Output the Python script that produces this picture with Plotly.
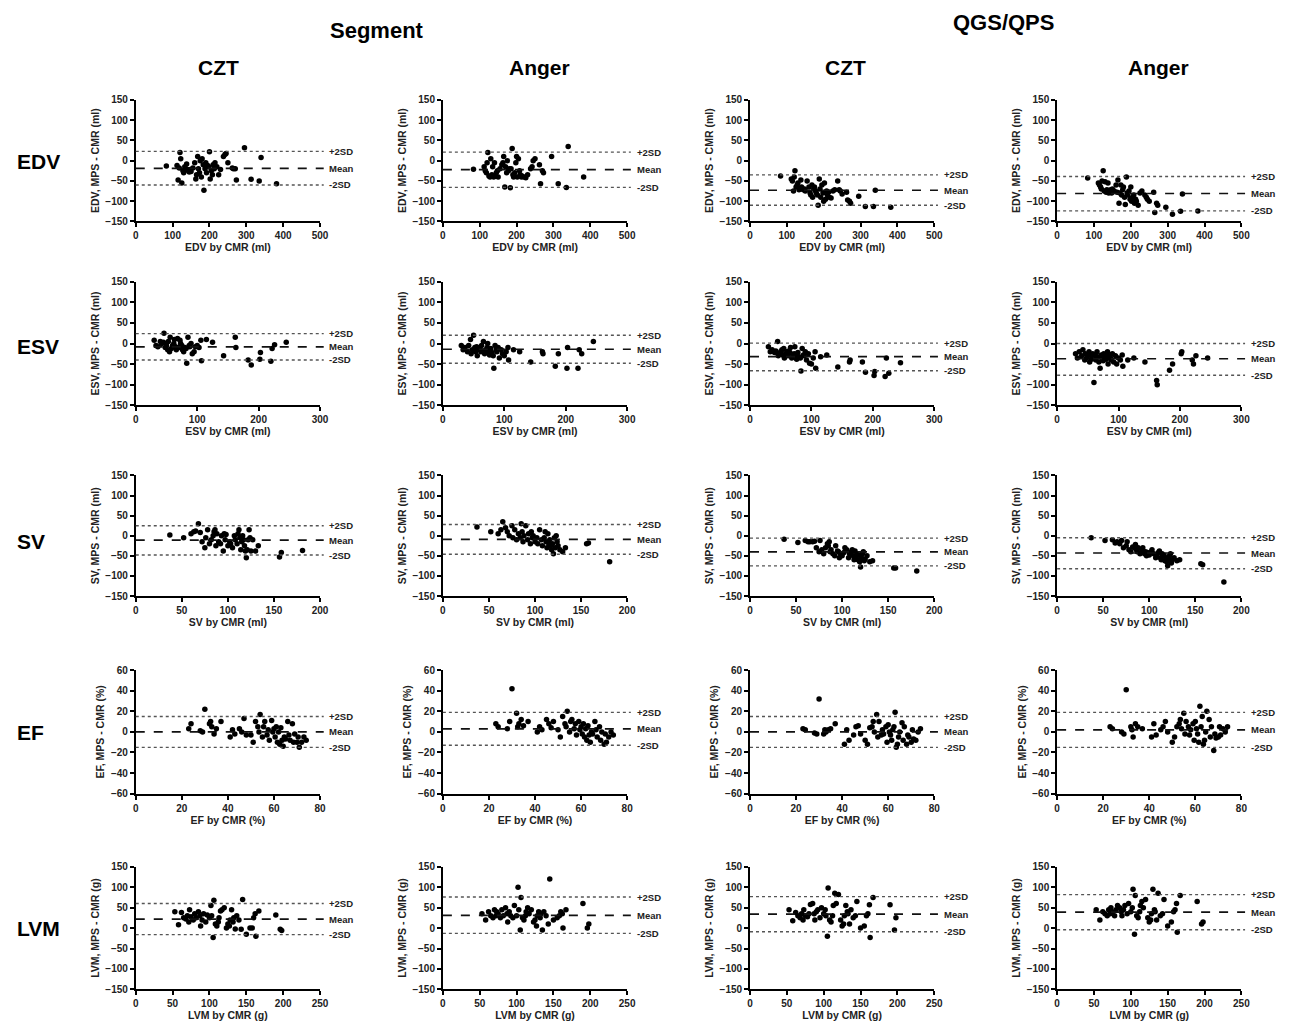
import plotly.graph_objects as go

# ---------------- data ----------------
COLS = ["CZT", "Anger", "CZT", "Anger"]
ROWS = ["EDV", "ESV", "SV", "EF", "LVM"]

EDV_CMR = [83, 112, 115, 118, 120, 122, 125, 128, 130, 133,
           135, 138, 140, 143, 145, 148, 150, 155, 160, 163,
           165, 168, 170, 173, 175, 178, 180, 183, 185, 188,
           190, 192, 195, 198, 200, 202, 205, 208, 210, 213,
           215, 220, 225, 230, 238, 242, 245, 250, 262, 265,
           270, 273, 295, 313, 335, 340, 382]
EDV_SEG_CZT = [-13, -12, -48, -18, 20, 5, -55, -25, -30, -15,
               -20, -8, -22, -25, -28, -22, -27, -18, -5, -45,
               -35, 10, -20, -30, 0, -40, 5, -10, -73, -20,
               -5, -30, -12, -15, 22, -45, -25, -35, -10, -20,
               -5, -15, -35, -22, 10, 15, 18, -5, -18, -20,
               -20, -48, 32, -46, -50, 8, -57]
EDV_SEG_ANGER = [-21, -15, -25, -30, -5, 20, -38, -40, 5, -35,
                 -15, -40, -5, -38, -30, -25, -40, -20, -10, -5,
                 10, -65, -15, -30, 0, -25, -20, -67, -20, 30,
                 -35, -40, -30, -5, 10, -40, 5, -25, -35, -40,
                 -38, -40, -42, -35, -20, -15, 0, 5, -10, -57,
                 -25, -30, 10, -57, -66, 35, -40]
EDV_QGS_CZT = [-38, -45, -50, -75, -40, -25, -65, -60, -55, -72,
               -70, -48, -65, -70, -72, -70, -75, -50, -65, -80,
               -85, -60, -90, -70, -65, -75, -80, -85, -110, -45,
               -70, -90, -60, -80, -100, -55, -95, -75, -85, -78,
               -90, -92, -75, -72, -50, -72, -75, -82, -78, -97,
               -100, -105, -88, -113, -113, -73, -115]
EDV_QGS_ANGER = [-43, -55, -60, -65, -70, -50, -25, -75, -52, -78,
                 -72, -55, -80, -75, -72, -80, -70, -75, -60, -78,
                 -48, -105, -80, -60, -85, -72, -65, -90, -108, -40,
                 -80, -85, -75, -95, -65, -100, -90, -85, -105, -95,
                 -100, -110, -80, -75, -85, -90, -95, -100, -78, -128,
                 -105, -110, -115, -132, -125, -82, -124]

ESV_CMR = [30, 33, 36, 40, 42, 45, 46, 48, 50, 52,
           53, 55, 56, 58, 60, 62, 63, 65, 66, 68,
           70, 72, 73, 75, 76, 78, 80, 82, 83, 85,
           87, 88, 90, 92, 95, 97, 100, 103, 106, 107,
           115, 125, 143, 162, 163, 183, 188, 202, 203, 220,
           222, 226, 245]
ESV_SEG_CZT = [8, -5, -8, 5, 0, 3, 25, -10, -5, -15,
               5, -20, 15, -12, -5, 0, 10, -8, -15, 12,
               -10, 8, 0, -5, -15, -20, -10, -12, -48, 15,
               -5, -8, 0, -25, -20, -8, -5, -10, 8, -42,
               10, 3, -30, 15, -10, -40, -52, -38, -22, -43,
               -12, -3, 3]
ESV_SEG_ANGER = [-5, -15, -10, -20, -5, 10, -25, -15, 20, -10,
                 -20, -8, -30, -15, -12, -20, -5, -18, 5, -25,
                 -15, -10, 0, -20, -28, -12, -22, -30, -60, -5,
                 -15, -20, -10, -35, -15, -25, -30, -20, -10, -40,
                 -15, -20, -45, -20, -25, -55, -25, -60, -10, -60,
                 -15, -25, 5]
ESV_QGS_CZT = [-8, -20, -15, -22, -18, 5, -30, -25, -20, -15,
               -28, -12, -35, -25, -20, -30, -18, -22, -10, -35,
               -28, -25, -8, -30, -38, -22, -32, -35, -67, -12,
               -28, -30, -20, -40, -25, -48, -50, -35, -20, -60,
               -32, -28, -57, -45, -40, -45, -70, -78, -68, -80,
               -35, -72, -47]
ESV_QGS_ANGER = [-25, -35, -20, -30, -15, -40, -25, -35, -30, -20,
                 -45, -28, -38, -25, -95, -30, -40, -20, -32, -45,
                 -60, -28, -35, -42, -25, -30, -38, -20, -50, -30,
                 -35, -40, -25, -45, -30, -50, -35, -40, -28, -55,
                 -40, -35, -45, -90, -100, -65, -50, -25, -20, -40,
                 -50, -30, -35]

SV_CMR = [37, 52, 60, 63, 65, 68, 70, 72, 75, 76,
          78, 80, 82, 84, 85, 86, 87, 88, 90, 92,
          93, 95, 96, 97, 98, 100, 102, 103, 105, 107,
          108, 110, 111, 112, 113, 114, 115, 116, 117, 118,
          119, 120, 121, 122, 123, 124, 125, 127, 130, 133,
          156, 158, 181]
SV_SEG_CZT = [2, -5, 5, 10, 12, 30, 8, -15, -30, -5,
              15, -20, -10, 0, 10, 15, -25, 5, -15, -20,
              0, -38, 5, -10, 3, -25, -15, -20, -30, 0,
              -10, -20, 5, 15, -5, -35, -15, 0, -10, -25,
              -38, -55, -35, -10, 15, -5, -38, -10, -38, -25,
              -53, -42, -37]
SV_SEG_ANGER = [22, 10, 5, 15, 35, 20, 10, 0, 25, -5,
                15, -10, 5, -5, 30, 10, -15, 0, 25, -10,
                5, -20, 10, -5, 0, -15, -5, -20, 15, -10,
                -25, -5, 10, -15, -30, 5, -20, -10, -25, -35,
                -20, -45, -5, -30, 0, -15, -25, -35, -40, -30,
                -20, -18, -65]
SV_QGS_CZT = [-9, -17, -12, -15, -15, -15, -14, -30, -40, -12,
              -35, -45, -30, -20, -25, -15, -40, -35, -45, -50,
              -25, -38, -40, -55, -45, -50, -42, -30, -35, -55,
              -45, -40, -35, -50, -60, -38, -55, -45, -60, -48,
              -65, -78, -55, -45, -40, -62, -58, -50, -65, -62,
              -80, -80, -88]
SV_QGS_ANGER = [-5, -12, -10, -18, -15, -20, -12, -30, -25, -15,
                -35, -40, -28, -30, -22, -35, -40, -30, -45, -38,
                -30, -45, -40, -50, -42, -48, -40, -35, -45, -55,
                -50, -42, -38, -55, -60, -45, -50, -48, -62, -55,
                -65, -75, -58, -50, -45, -68, -60, -55, -62, -60,
                -70, -72, -115]

EF_CMR = [23, 24, 28, 29, 30, 32, 32.5, 33, 34, 35,
          37, 41, 42, 43, 45, 46, 47, 48, 50, 51,
          52, 53, 53.5, 54, 55, 55.5, 56, 57, 57.5, 58,
          59, 59.5, 60, 60.5, 61, 61.5, 62, 62.5, 63, 63.5,
          64, 64.5, 65, 66, 66.5, 67, 68, 68.5, 69, 70,
          70.5, 71, 72, 73, 74]
EF_SEG_CZT = [3, 8, 1, 0, 22, 8, 10, 5, -2, 3,
              10, -5, 2, -2, 3, 0, 13, -3, -3, -10,
              10, 5, 0, 17, -5, 5, 10, -3, 2, -8,
              11, 0, 3, -5, 5, -10, 0, -12, 4, -8,
              -14, -5, -7, 10, -3, -8, 8, -10, -2, -10,
              -5, -15, -10, -5, -8]
EF_SEG_ANGER = [8, 5, 3, 10, 42, 18, 5, 8, 12, 6,
                10, 0, 5, 2, 12, 8, 4, 10, 2, -5,
                15, 8, 5, 20, 0, 10, 12, 3, 8, -3,
                10, 2, 5, -2, 8, -5, 3, -8, 6, -3,
                -10, 0, -2, 10, 2, -5, 5, -8, 0, -12,
                -2, -10, -5, 0, -3]
EF_QGS_CZT = [3, 2, -1, -2, 32, -2, 2, 0, 2, 3,
              8, -12, 2, -8, -3, 5, 6, -2, -8, -12,
              4, 5, 10, 0, 17, -5, 10, -3, 2, -2,
              5, -10, 7, 0, -3, -8, 2, 5, 19, -15,
              -12, -5, 0, 9, -8, 5, -12, -3, -5, -10,
              2, -7, -8, 0, 3]
EF_QGS_ANGER = [5, 3, 0, -2, 41, 5, 2, -5, 8, 5,
                3, -5, 8, -3, 2, 5, 10, 0, -10, -5,
                5, 8, 12, 3, 18, -2, 10, 5, -3, 2,
                8, -8, 10, 3, -2, -10, 25, 5, 15, -12,
                -8, 0, 20, 12, -5, 5, -18, -2, -6, -5,
                5, -3, 3, 0, 5]

LVM_CMR = [53, 58, 62, 65, 68, 70, 72, 73, 75, 78,
           80, 82, 85, 87, 88, 90, 92, 95, 97, 100,
           102, 103, 105, 106, 108, 110, 112, 113, 115, 117,
           120, 123, 125, 127, 128, 130, 132, 133, 135, 137,
           140, 143, 145, 150, 155, 158, 160, 162, 163, 167,
           190, 196, 198]
LVM_SEG_CZT = [40, 8, 38, 25, 22, 30, 15, 45, 28, 20,
               35, 25, 40, 30, 5, 20, 35, 15, 32, 25,
               55, 30, -23, 68, 10, 5, 15, 25, 42, 45,
               50, 0, 10, 5, 20, 45, 15, 25, -2, 30,
               20, -3, 70, -15, 0, 0, 25, 35, -20, 42,
               32, -3, -6]
LVM_SEG_ANGER = [35, 20, 40, 30, 25, 45, 30, 40, 35, 25,
                 45, 30, 50, 35, 15, 40, 30, 25, 55, 30,
                 100, 45, -5, 75, 25, 20, 30, 40, 50, 35,
                 45, 15, 20, 5, 30, 40, 25, 35, -5, 40,
                 30, 10, 120, 20, 25, 30, 40, 35, 0, 45,
                 60, 0, 10]
LVM_QGS_CZT = [45, 18, 38, 30, 25, 35, 20, 45, 30, 28,
               35, 58, 60, 35, 20, 40, 45, 25, 50, 35,
               45, 30, -20, 98, 20, 15, 30, 55, 85, 60,
               82, 20, 5, 10, 30, 55, 40, 35, 10, 45,
               25, 30, 65, 0, 5, 30, 35, 57, -23, 75,
               57, -5, 25]
LVM_QGS_ANGER = [45, 20, 40, 35, 30, 45, 35, 50, 40, 30,
                 45, 55, 50, 40, 30, 45, 55, 35, 60, 40,
                 50, 95, -15, 80, 30, 25, 40, 55, 65, 50,
                 70, 25, 15, 20, 35, 95, 45, 40, 20, 85,
                 30, 35, 70, 5, 15, 40, 45, 60, -10, 80,
                 65, 10, 15]

# Bland-Altman limits per column (Seg CZT, Seg Anger, QGS CZT, QGS Anger)
EDV_MEAN = [-19, -22, -73, -81]; EDV_UP = [23, 21, -35, -39]; EDV_LO = [-60, -66, -110, -124]
ESV_MEAN = [-8, -14, -32, -37];  ESV_UP = [24, 20, 1, 0];     ESV_LO = [-40, -48, -66, -77]
SV_MEAN = [-11, -9, -40, -43];   SV_UP = [25, 28, -6, -5];    SV_LO = [-48, -46, -75, -82]
EF_MEAN = [0, 3, 0, 2];          EF_UP = [15, 19, 15, 19];    EF_LO = [-15, -13, -15, -15]
LVM_MEAN = [22, 31, 34, 39];     LVM_UP = [60, 76, 77, 82];   LVM_LO = [-16, -13, -9, -4]

X_TITLES = ["EDV by CMR (ml)", "ESV by CMR (ml)", "SV by CMR (ml)", "EF by CMR (%)", "LVM by CMR (g)"]
Y_TITLES = ["EDV, MPS - CMR (ml)", "ESV, MPS - CMR (ml)", "SV, MPS - CMR (ml)",
            "EF, MPS - CMR (%)", "LVM, MPS - CMR (g)"]
X_MAX = [500, 300, 200, 80, 250]
X_DTICK = [100, 100, 50, 20, 50]
Y_LIM = [150, 150, 150, 60, 150]
Y_DTICK = [50, 50, 50, 20, 50]

row_data = [
    (EDV_CMR, [EDV_SEG_CZT, EDV_SEG_ANGER, EDV_QGS_CZT, EDV_QGS_ANGER], EDV_MEAN, EDV_UP, EDV_LO),
    (ESV_CMR, [ESV_SEG_CZT, ESV_SEG_ANGER, ESV_QGS_CZT, ESV_QGS_ANGER], ESV_MEAN, ESV_UP, ESV_LO),
    (SV_CMR, [SV_SEG_CZT, SV_SEG_ANGER, SV_QGS_CZT, SV_QGS_ANGER], SV_MEAN, SV_UP, SV_LO),
    (EF_CMR, [EF_SEG_CZT, EF_SEG_ANGER, EF_QGS_CZT, EF_QGS_ANGER], EF_MEAN, EF_UP, EF_LO),
    (LVM_CMR, [LVM_SEG_CZT, LVM_SEG_ANGER, LVM_QGS_CZT, LVM_QGS_ANGER], LVM_MEAN, LVM_UP, LVM_LO),
]

# ---------------- layout geometry (pixels) ----------------
W, H = 1291, 1025
COL_LEFT = [134, 444, 754, 1064]
COL_W = 186
ROW_TB = [(95, 218), (279, 404), (475, 597), (672, 797), (871, 995)]

FONT = "Liberation Sans, Arial, Helvetica, sans-serif"

fig = go.Figure()
layout = dict(
    width=W, height=H, margin=dict(l=0, r=0, t=0, b=0),
    paper_bgcolor="white", plot_bgcolor="white", showlegend=False,
    font=dict(family=FONT, color="black"),
)
shapes = []
annotations = []

for r in range(5):
    xs, ys_list, means, ups, los = row_data[r]
    top, bot = ROW_TB[r]
    for c in range(4):
        k = r * 4 + c + 1
        xa = "x" if k == 1 else f"x{k}"
        ya = "y" if k == 1 else f"y{k}"
        xname = "xaxis" if k == 1 else f"xaxis{k}"
        yname = "yaxis" if k == 1 else f"yaxis{k}"
        left = COL_LEFT[c]
        layout[xname] = dict(
            domain=[left / W, (left + COL_W) / W], anchor=ya,
            range=[0, X_MAX[r]], dtick=X_DTICK[r], tick0=0,
            showline=True, linecolor="black", linewidth=1.8,
            ticks="outside", ticklen=4, tickwidth=1.5, tickcolor="black",
            showgrid=False, zeroline=False,
            tickfont=dict(size=10, family=FONT, weight="bold", color="#222"),
            title=dict(text=X_TITLES[r], font=dict(size=10.5, family=FONT, weight="bold", color="#222"),
                       standoff=2),
        )
        layout[yname] = dict(
            domain=[1 - bot / H, 1 - top / H], anchor=xa,
            range=[-Y_LIM[r], Y_LIM[r]], dtick=Y_DTICK[r], tick0=0,
            showline=True, linecolor="black", linewidth=1.8,
            ticks="outside", ticklen=4, tickwidth=1.5, tickcolor="black",
            showgrid=False, zeroline=False,
            tickfont=dict(size=10, family=FONT, weight="bold", color="#222"),
            title=dict(text=Y_TITLES[r], font=dict(size=10.5, family=FONT, weight="bold", color="#222"),
                       standoff=4),
        )
        fig.add_trace(go.Scatter(
            x=xs, y=ys_list[c], mode="markers", xaxis=xa, yaxis=ya,
            marker=dict(size=5.5, color="black"), cliponaxis=False, hoverinfo="x+y",
        ))
        for val, dash, col, wdt, lab in [(ups[c], "dot", "#555555", 1.4, "+2SD"),
                                         (means[c], "dash", "#111111", 1.7, "Mean"),
                                         (los[c], "dot", "#555555", 1.4, "-2SD")]:
            shapes.append(dict(type="line", xref=f"{xa} domain", yref=ya,
                               x0=0, x1=1.02, y0=val, y1=val,
                               line=dict(color=col, width=wdt, dash=dash)))
            annotations.append(dict(xref=f"{xa} domain", yref=ya, x=1.04, y=val,
                                    text=lab, showarrow=False, xanchor="left", yanchor="middle",
                                    font=dict(size=9.5, family=FONT, weight="bold", color="#222")))

# column group headers and column titles
for txt, xc, yc, sz in [("Segment", 378, 25, 22), ("QGS/QPS", 1010, 17, 22)]:
    annotations.append(dict(xref="paper", yref="paper", x=xc / W, y=1 - yc / H, text=txt,
                            showarrow=False, xanchor="center", yanchor="middle",
                            font=dict(size=sz, family=FONT, weight="bold")))
for txt, xc in zip(COLS, [218, 542, 850, 1166]):
    annotations.append(dict(xref="paper", yref="paper", x=xc / W, y=1 - 62 / H, text=txt,
                            showarrow=False, xanchor="center", yanchor="middle",
                            font=dict(size=21, family=FONT, weight="bold")))
for txt, yc in zip(ROWS, [157, 345, 542, 735, 933]):
    annotations.append(dict(xref="paper", yref="paper", x=12 / W, y=1 - yc / H, text=txt,
                            showarrow=False, xanchor="left", yanchor="middle",
                            font=dict(size=21, family=FONT, weight="bold")))

layout["shapes"] = shapes
layout["annotations"] = annotations
fig.update_layout(**layout)

POST = ("document.documentElement.style.margin='0';document.body.style.margin='0';"
        "document.body.style.padding='0';document.body.style.overflow='hidden';"
        "document.documentElement.style.overflow='hidden';"
        "document.querySelectorAll('.plotly-graph-div').forEach(function(d){d.style.display='block';"
        "if(d.parentElement){d.parentElement.style.lineHeight='0';d.parentElement.style.height='1025px';}});")

fig.write_html("out.html", config={"displayModeBar": False}, post_script=POST)
